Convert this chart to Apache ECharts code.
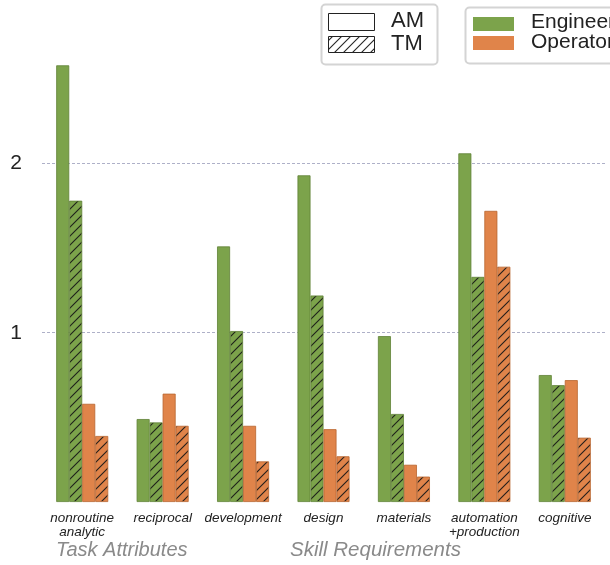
<!DOCTYPE html>
<html>
<head>
<meta charset="utf-8">
<script src="https://cdn.jsdelivr.net/npm/echarts@6/dist/echarts.min.js"></script>
<style>
  html, body { margin: 0; padding: 0; background: #fff; }
  #main { width: 610px; height: 565px; }
</style>
</head>
<body>
<div id="main"></div>
<script>
const categories = ['nonroutine\nanalytic', 'reciprocal', 'development', 'design', 'materials', 'automation\n+production', 'cognitive']
const engineerAM = [2.58, 0.49, 1.51, 1.93, 0.98, 2.06, 0.75]
const engineerTM = [1.78, 0.47, 1.01, 1.22, 0.52, 1.33, 0.69]
const operatorAM = [0.58, 0.64, 0.45, 0.43, 0.22, 1.72, 0.72]
const operatorTM = [0.39, 0.45, 0.24, 0.27, 0.15, 1.39, 0.38]
const yTicks = [1, 2]

const green = '#7ca34b'
const orange = '#e0844a'
const font = 'Liberation Sans'

// diagonal "/" hatch drawn on a small tile, used as a repeating fill
function hatchFill(bg) {
  const s = 9
  const c = document.createElement('canvas')
  c.width = s
  c.height = s
  const ctx = c.getContext('2d')
  ctx.fillStyle = bg
  ctx.fillRect(0, 0, s, s)
  ctx.strokeStyle = 'rgba(25,25,25,0.95)'
  ctx.lineWidth = 1.1
  ctx.beginPath()
  ctx.moveTo(-1, s + 1); ctx.lineTo(s + 1, -1)
  ctx.moveTo(-1, 1); ctx.lineTo(1, -1)
  ctx.moveTo(s - 1, s + 1); ctx.lineTo(s + 1, s - 1)
  ctx.stroke()
  return { image: c, repeat: 'repeat' }
}

function bar(name, data, color, border) {
  return {
    name,
    type: 'bar',
    data,
    barWidth: 13,
    barGap: 0,
    itemStyle: { color, borderColor: border, borderWidth: 0.8 },
    emphasis: { disabled: true },
  }
}

const chart = echarts.init(document.getElementById('main'))
chart.setOption({
  animation: false,
  textStyle: { fontFamily: font },
  grid: { left: 42, right: 5, top: 45, bottom: 63 },
  xAxis: {
    type: 'category',
    data: categories,
    axisLine: { show: false },
    axisTick: { show: false },
    axisLabel: {
      fontSize: 13.5,
      fontStyle: 'italic',
      color: '#222',
      lineHeight: 14,
      margin: 9,
      interval: 0,
    },
  },
  yAxis: {
    type: 'value',
    min: 0,
    max: 2.7,
    interval: 1,
    axisLine: { show: false },
    axisTick: { show: false },
    axisLabel: {
      fontSize: 21,
      color: '#222',
      margin: 20,
      formatter: v => (yTicks.includes(v) ? String(v) : ''),
    },
    splitLine: {
      show: true,
      lineStyle: {
        color: ['transparent', '#aeb0c8', '#aeb0c8', 'transparent'],
        type: [3, 2],
        width: 1,
      },
    },
  },
  series: [
    bar('Engineer AM', engineerAM, green, '#5f8236'),
    bar('Engineer TM', engineerTM, hatchFill(green), '#5f8236'),
    bar('Operator AM', operatorAM, orange, '#b8652f'),
    bar('Operator TM', operatorTM, hatchFill(orange), '#b8652f'),
  ],
  graphic: [
    { type: 'text', left: 56, top: 540, style: { text: 'Task Attributes', fontSize: 20, fontStyle: 'italic', fontFamily: font, fill: '#8a8a8a' } },
    { type: 'text', left: 290, top: 540, style: { text: 'Skill Requirements', fontSize: 20.5, fontStyle: 'italic', fontFamily: font, fill: '#8a8a8a' } },
    // AM / TM legend box
    { type: 'rect', shape: { x: 321.5, y: 4.5, width: 116, height: 60, r: 4 }, style: { fill: '#fff', stroke: '#d4d4d4', lineWidth: 2 } },
    { type: 'rect', shape: { x: 328.5, y: 13.5, width: 46, height: 17 }, style: { fill: '#fff', stroke: '#222', lineWidth: 1 } },
    { type: 'rect', shape: { x: 328.5, y: 36.5, width: 46, height: 16 }, style: { fill: hatchFill('#fff'), stroke: '#222', lineWidth: 1 } },
    { type: 'text', left: 391, top: 10, style: { text: 'AM', fontSize: 22, fontFamily: font, fill: '#222' } },
    { type: 'text', left: 391, top: 33, style: { text: 'TM', fontSize: 22, fontFamily: font, fill: '#222' } },
    // Engineer / Operator legend box
    { type: 'rect', shape: { x: 465.5, y: 7.5, width: 160, height: 56, r: 4 }, style: { fill: '#fff', stroke: '#d4d4d4', lineWidth: 2 } },
    { type: 'rect', shape: { x: 473, y: 17, width: 41, height: 14 }, style: { fill: green } },
    { type: 'rect', shape: { x: 473, y: 36, width: 41, height: 14 }, style: { fill: orange } },
    { type: 'text', left: 531, top: 12, style: { text: 'Engineer', fontSize: 21, fontFamily: font, fill: '#222' } },
    { type: 'text', left: 531, top: 32, style: { text: 'Operator', fontSize: 21, fontFamily: font, fill: '#222' } },
  ],
})
</script>
</body>
</html>
